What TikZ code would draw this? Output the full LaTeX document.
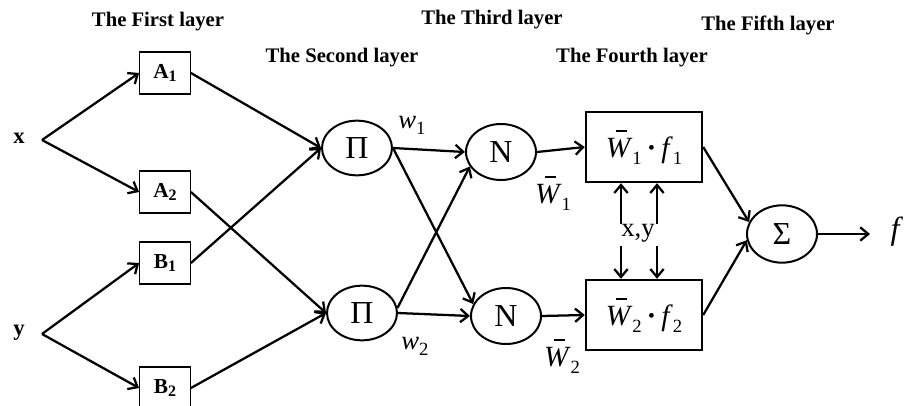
\documentclass[tikz,border=0pt]{standalone}
\usepackage{fontspec}
\setmainfont{Liberation Serif}
\usetikzlibrary{shapes.geometric,arrows.meta}
\newcommand\sbs[1]{\raisebox{-0.4ex}{\fontsize{12}{13}\selectfont #1}}
\newcommand\sbl[1]{\raisebox{-0.5ex}{\fontsize{14}{15}\selectfont #1}}
\newcommand\Wbar{\textit{W}\llap{\rule[0.88em]{0.36em}{0.055em}\kern0.2em}}
\begin{document}
\begin{tikzpicture}[x=0.75pt,y=-0.75pt,
  title/.style={font=\fontsize{15.5}{17}\selectfont\bfseries},
  abox/.style={draw,line width=0.9pt,minimum width=38pt,minimum height=31.5pt,inner sep=0pt,font=\fontsize{16}{18}\selectfont\bfseries},
  ell/.style={ellipse,draw,line width=1.5pt,minimum width=52.5pt,minimum height=41pt,inner sep=0pt,font=\fontsize{24}{26}\selectfont},
  fbox/.style={draw,line width=1.8pt,minimum width=87pt,minimum height=52.5pt,inner sep=0pt,font=\fontsize{22}{24}\selectfont},
  lbl/.style={font=\fontsize{20}{22}\selectfont},
  arr/.style={line width=1.7pt,-{Straight Barb[length=6pt,width=10pt]}}]
\useasboundingbox (0,0) rectangle (913,406);
% titles
\node[title] (t1) at (158,22) {The First layer};
\node[title] (t2) at (342,58) {The Second layer};
\node[title] (t3) at (492,20) {The Third layer};
\node[title] (t4) at (632,58) {The Fourth layer};
\node[title] (t5) at (768,25) {The Fifth layer};
% inputs
\node[font=\fontsize{17}{18}\selectfont\bfseries] (xl) at (19,138) {x};
\node[font=\fontsize{17}{18}\selectfont\bfseries] (yl) at (19,333) {y};
\coordinate (xs) at (42,140);
\coordinate (ys) at (42,334);
% first layer
\node[abox] (A1) at (165,73) {A\sbs{1}};
\node[abox] (A2) at (165,192) {A\sbs{2}};
\node[abox] (B1) at (165,263) {B\sbs{1}};
\node[abox] (B2) at (165,388) {B\sbs{2}};
% second layer
\node[ell] (P1) at (357,148) {\raisebox{-0.1ex}{Π}};
\node[ell] (P2) at (362,313) {\raisebox{-0.1ex}{Π}};
% third layer
\node[ell,minimum height=42pt] (N1) at (501,152) {N};
\node[ell,minimum height=42pt] (N2) at (506,316) {N};
% fourth layer
\node[fbox] (F1) at (644,147) {\Wbar\sbl{1}\,\textbf{·}\,\textit{f}\sbl{1}};
\node[fbox] (F2) at (644,315) {\Wbar\sbl{2}\,\textbf{·}\,\textit{f}\sbl{2}};
% fifth layer
\node[ell,minimum height=43pt] (S) at (782,234) {Σ};
\coordinate (fo) at (870,234);
\node[font=\fontsize{24}{26}\selectfont\itshape] (fl) at (895,232) {f};
% connectors
\draw[arr] (xs) -- (A1.west);
\draw[arr] (xs) -- (A2.west);
\draw[arr] (ys) -- (B1.west);
\draw[arr] (ys) -- (B2.west);
\draw[arr] (A1.east) -- (P1.west);
\draw[arr] (B1.east) -- (P1.west);
\draw[arr] (A2.east) -- (P2.west);
\draw[arr] (B2.east) -- (P2.west);
\draw[arr] (P1.east) -- (N1.west);
\draw[arr] (P1.east) -- (N2.160);
\draw[arr] (P2.8) -- (N1.205);
\draw[arr] (P2.east) -- (N2.west);
\draw[arr] (N1.east) -- (F1.west);
\draw[arr] (N2.east) -- (F2.west);
\draw[arr] (F1.east) -- (S.160);
\draw[arr] (F2.east) -- (S.190);
\draw[arr] (S.east) -- (fo);
% x,y arrows
\coordinate (u1) at (621,224);
\coordinate (u2) at (657,224);
\coordinate (d1) at (621,246);
\coordinate (d2) at (657,246);
\draw[arr] (u1) -- (u1 |- F1.south);
\draw[arr] (u2) -- (u2 |- F1.south);
\draw[arr] (d1) -- (d1 |- F2.north);
\draw[arr] (d2) -- (d2 |- F2.north);
\node[lbl] (xy) at (638,233) {x,y};
% weight labels
\node[font=\fontsize{20}{22}\selectfont] (w1) at (412,125) {\textit{w}\sbl{1}};
\node[font=\fontsize{20}{22}\selectfont] (w2) at (415,346) {\textit{w}\sbl{2}};
\node[font=\fontsize{22}{24}\selectfont] (wb1) at (553,193) {\Wbar\sbl{1}};
\node[font=\fontsize{22}{24}\selectfont] (wb2) at (562,356) {\Wbar\sbl{2}};
\end{tikzpicture}
\end{document}
